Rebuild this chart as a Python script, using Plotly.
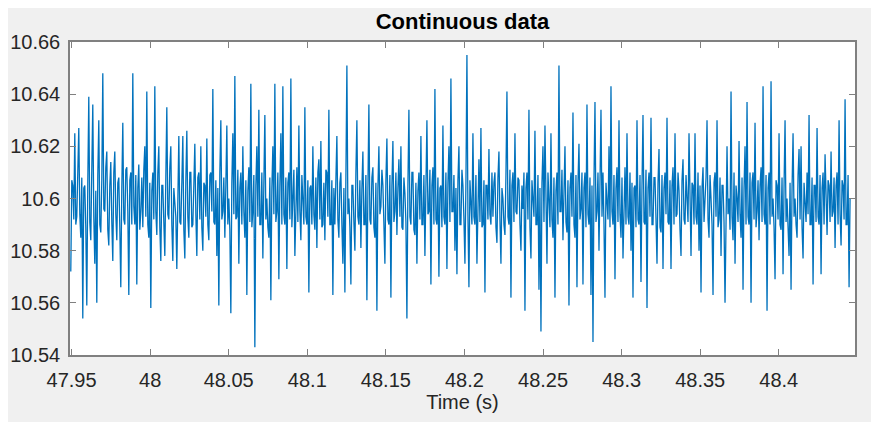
import plotly.graph_objects as go

t_start = 47.9495
sample_rate = 1571.0

seg1 = [10.572, 10.607, 10.605, 10.592, 10.625, 10.590, 10.593, 10.610, 10.627, 10.594,
        10.585, 10.608, 10.554, 10.604, 10.605, 10.589, 10.559, 10.606, 10.639, 10.591,
        10.584, 10.611, 10.636, 10.593, 10.575, 10.603, 10.560, 10.609, 10.630, 10.590,
        10.587, 10.607, 10.648, 10.596, 10.595, 10.612, 10.618, 10.588, 10.582, 10.605,
        10.614, 10.591, 10.576, 10.610, 10.618, 10.594, 10.584, 10.606, 10.608, 10.589,
        10.566, 10.604, 10.629, 10.592, 10.590, 10.611, 10.612, 10.595, 10.563, 10.607,
        10.610, 10.590, 10.648, 10.597, 10.590, 10.609, 10.567, 10.604, 10.613, 10.588,
        10.595, 10.608, 10.589, 10.611, 10.620, 10.593, 10.641, 10.590, 10.585, 10.606,
        10.558, 10.603, 10.610, 10.592, 10.643, 10.595, 10.586, 10.610, 10.620, 10.589,
        10.576, 10.605, 10.605, 10.591, 10.578, 10.608, 10.635, 10.594, 10.592, 10.612,
        10.620, 10.590, 10.576, 10.604, 10.600, 10.593, 10.573, 10.609, 10.624, 10.591,
        10.590, 10.606, 10.624, 10.588, 10.577, 10.607, 10.626, 10.593, 10.585, 10.610,
        10.610, 10.589, 10.590, 10.605, 10.621, 10.594, 10.578, 10.608]
seg2 = [10.610, 10.592, 10.620, 10.589, 10.580, 10.606, 10.605, 10.593, 10.623, 10.590,
        10.584, 10.609, 10.610, 10.595, 10.642, 10.591, 10.590, 10.607, 10.578, 10.604,
        10.559, 10.610, 10.630, 10.592, 10.595, 10.608, 10.585, 10.605, 10.628, 10.590,
        10.600, 10.588, 10.556, 10.606, 10.625, 10.594, 10.647, 10.592, 10.593, 10.611,
        10.575, 10.604, 10.610, 10.590, 10.620, 10.595, 10.585, 10.607, 10.563, 10.603,
        10.612, 10.591, 10.644, 10.589, 10.595, 10.609, 10.543, 10.605, 10.620, 10.593,
        10.634, 10.590, 10.590, 10.610, 10.577, 10.606, 10.632, 10.592, 10.600, 10.589,
        10.585, 10.608, 10.561, 10.604, 10.620, 10.594, 10.644, 10.591, 10.595, 10.610,
        10.569, 10.605, 10.625, 10.590, 10.643, 10.594, 10.590, 10.608, 10.573, 10.606,
        10.610, 10.592, 10.646, 10.589, 10.600, 10.611, 10.578, 10.603, 10.612, 10.591,
        10.628, 10.595, 10.584, 10.609, 10.600, 10.590, 10.635, 10.593, 10.590, 10.607,
        10.564, 10.604, 10.605, 10.590, 10.620, 10.594, 10.588, 10.608, 10.581, 10.610,
        10.615, 10.592, 10.622, 10.589, 10.590, 10.606, 10.584, 10.611, 10.610, 10.593,
        10.634, 10.590, 10.590, 10.607, 10.563, 10.604]
seg3 = [10.590, 10.609, 10.624, 10.592, 10.585, 10.606, 10.610, 10.590, 10.575, 10.604,
        10.564, 10.608, 10.651, 10.594, 10.600, 10.589, 10.567, 10.605, 10.605, 10.591,
        10.580, 10.610, 10.630, 10.593, 10.590, 10.607, 10.581, 10.604, 10.618, 10.590,
        10.590, 10.609, 10.561, 10.603, 10.636, 10.592, 10.590, 10.608, 10.612, 10.589,
        10.585, 10.606, 10.557, 10.604, 10.620, 10.594, 10.597, 10.611, 10.605, 10.590,
        10.575, 10.607, 10.623, 10.592, 10.590, 10.609, 10.562, 10.605, 10.622, 10.591,
        10.595, 10.610, 10.586, 10.604, 10.615, 10.593, 10.620, 10.589, 10.588, 10.608,
        10.602, 10.591, 10.554, 10.605, 10.634, 10.593, 10.590, 10.610, 10.610, 10.588,
        10.586, 10.606, 10.575, 10.603, 10.610, 10.592, 10.624, 10.590, 10.590, 10.609,
        10.578, 10.604, 10.630, 10.594, 10.595, 10.611, 10.567, 10.605, 10.612, 10.590,
        10.642, 10.592, 10.590, 10.608, 10.570, 10.604, 10.605, 10.589, 10.628, 10.593,
        10.590, 10.610, 10.573, 10.606, 10.620, 10.591, 10.646, 10.595, 10.595, 10.609,
        10.580, 10.604, 10.571, 10.607, 10.620, 10.590, 10.590, 10.611, 10.605, 10.592,
        10.575, 10.606, 10.655, 10.594]
seg4 = [10.566, 10.607, 10.600, 10.590, 10.625, 10.593, 10.590, 10.609, 10.575, 10.604,
        10.615, 10.591, 10.627, 10.589, 10.590, 10.607, 10.564, 10.605, 10.605, 10.592,
        10.619, 10.594, 10.590, 10.610, 10.593, 10.606, 10.610, 10.589, 10.583, 10.608,
        10.618, 10.592, 10.575, 10.604, 10.600, 10.590, 10.586, 10.609, 10.641, 10.593,
        10.590, 10.611, 10.562, 10.605, 10.610, 10.591, 10.625, 10.595, 10.594, 10.608,
        10.607, 10.590, 10.580, 10.605, 10.596, 10.610, 10.557, 10.604, 10.610, 10.592,
        10.634, 10.589, 10.577, 10.607, 10.600, 10.593, 10.626, 10.590, 10.590, 10.609,
        10.565, 10.604, 10.549, 10.606, 10.620, 10.591, 10.628, 10.594, 10.575, 10.610,
        10.600, 10.589, 10.625, 10.592, 10.585, 10.608, 10.562, 10.603, 10.610, 10.590,
        10.651, 10.595, 10.595, 10.611, 10.584, 10.605, 10.620, 10.591, 10.587, 10.607,
        10.559, 10.604, 10.610, 10.593, 10.633, 10.590, 10.585, 10.609, 10.566, 10.606,
        10.621, 10.592, 10.596, 10.610, 10.567, 10.604, 10.610, 10.589, 10.636, 10.594,
        10.590, 10.608, 10.563, 10.605, 10.545, 10.607, 10.637, 10.591, 10.595, 10.610,
        10.580, 10.606, 10.634, 10.593]
seg5 = [10.610, 10.590, 10.562, 10.606, 10.600, 10.592, 10.620, 10.589, 10.643, 10.595,
        10.590, 10.609, 10.569, 10.604, 10.612, 10.591, 10.630, 10.594, 10.585, 10.608,
        10.577, 10.605, 10.612, 10.590, 10.625, 10.593, 10.590, 10.610, 10.580, 10.606,
        10.562, 10.604, 10.605, 10.589, 10.630, 10.592, 10.590, 10.609, 10.568, 10.605,
        10.632, 10.591, 10.590, 10.611, 10.558, 10.604, 10.610, 10.593, 10.631, 10.590,
        10.590, 10.608, 10.608, 10.592, 10.575, 10.606, 10.619, 10.589, 10.587, 10.609,
        10.573, 10.604, 10.610, 10.594, 10.631, 10.591, 10.590, 10.607, 10.573, 10.605,
        10.612, 10.590, 10.625, 10.593, 10.594, 10.610, 10.603, 10.588, 10.578, 10.607,
        10.615, 10.592, 10.590, 10.609, 10.600, 10.591, 10.625, 10.594, 10.578, 10.606,
        10.605, 10.590, 10.625, 10.593, 10.590, 10.610, 10.580, 10.605, 10.564, 10.604,
        10.612, 10.591, 10.598, 10.608, 10.630, 10.592, 10.585, 10.609, 10.600, 10.590,
        10.563, 10.606, 10.610, 10.593, 10.630, 10.589, 10.592, 10.608, 10.578, 10.605,
        10.605, 10.591, 10.560, 10.607, 10.620, 10.594, 10.600, 10.588, 10.641, 10.593,
        10.584, 10.610, 10.575, 10.605]
seg6 = [10.600, 10.591, 10.622, 10.594, 10.585, 10.608, 10.565, 10.604, 10.620, 10.590,
        10.637, 10.593, 10.590, 10.610, 10.560, 10.606, 10.610, 10.592, 10.629, 10.589,
        10.595, 10.607, 10.584, 10.605, 10.612, 10.591, 10.643, 10.594, 10.590, 10.609,
        10.557, 10.604, 10.610, 10.590, 10.645, 10.593, 10.600, 10.589, 10.569, 10.607,
        10.605, 10.592, 10.625, 10.590, 10.588, 10.608, 10.571, 10.605, 10.630, 10.591,
        10.600, 10.589, 10.578, 10.606, 10.565, 10.604, 10.625, 10.593, 10.600, 10.590,
        10.585, 10.609, 10.619, 10.592, 10.620, 10.589, 10.577, 10.606, 10.600, 10.591,
        10.610, 10.594, 10.632, 10.590, 10.590, 10.608, 10.567, 10.605, 10.605, 10.591,
        10.627, 10.593, 10.590, 10.609, 10.571, 10.604, 10.610, 10.590, 10.617, 10.594,
        10.586, 10.607, 10.605, 10.591, 10.618, 10.593, 10.595, 10.608, 10.581, 10.605,
        10.610, 10.590, 10.630, 10.594, 10.582, 10.607, 10.605, 10.592, 10.638, 10.590,
        10.590, 10.609, 10.566, 10.600]

signal = seg1 + seg2 + seg3 + seg4 + seg5 + seg6
time = [t_start + i / sample_rate for i in range(len(signal))]

x_ticks = [47.95, 48, 48.05, 48.1, 48.15, 48.2, 48.25, 48.3, 48.35, 48.4]
y_ticks = [10.54, 10.56, 10.58, 10.6, 10.62, 10.64, 10.66]

fig = go.Figure(go.Scatter(x=time, y=signal, mode="lines",
                           line=dict(color="#0072BD", width=1.3)))

axis_style = dict(showgrid=False, zeroline=False, showline=True, linecolor="#808080",
                  linewidth=1.5, mirror="ticks", ticks="inside", ticklen=6,
                  tickcolor="#808080", tickfont=dict(size=20, color="#262626"),
                  automargin=False)

fig.update_layout(
    width=871, height=414,
    paper_bgcolor="#f0f0f0", plot_bgcolor="white",
    margin={"l": 62, "r": 24, "t": 34, "b": 67},
    font=dict(family="Liberation Sans, Arial, sans-serif", color="#262626"),
    showlegend=False,
    title=dict(text="Continuous data", x=0.5, xanchor="center", xref="paper",
               y=0.969, yanchor="middle",
               font=dict(size=22, color="#000000", weight="bold")),
    xaxis=dict(range=[47.949, 48.4485], tickvals=x_ticks, ticklabelstandoff=6,
               title=dict(text="Time (s)", font=dict(size=20), standoff=2), **axis_style),
    yaxis=dict(range=[10.54, 10.66], tickvals=y_ticks, ticklabelstandoff=4, **axis_style),
)

fig.write_html("out.html")
